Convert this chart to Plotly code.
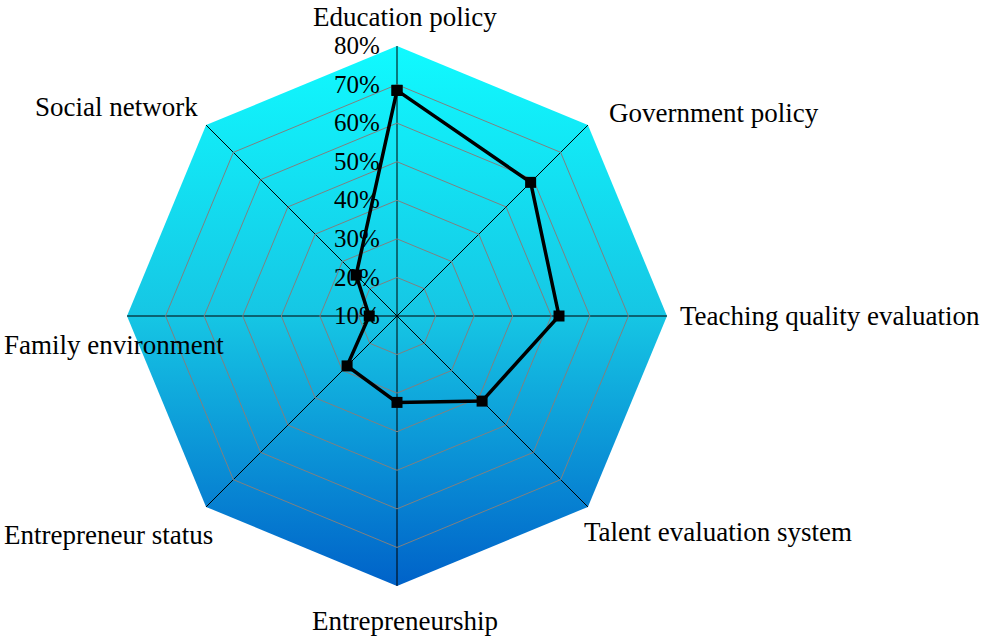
import numpy as np
import plotly.graph_objects as go

categories = ["Education policy", "Government policy", "Teaching quality evaluation",
              "Talent evaluation system", "Entrepreneurship", "Entrepreneur status",
              "Family environment", "Social network"]
values = [68.5, 59, 52, 41.2, 32.4, 28.3, 17.2, 25]
radial_ticks = [10, 20, 30, 40, 50, 60, 70, 80]
radial_labels = ["%d%%" % v for v in radial_ticks]

W, H = 983, 637
cx, cy, R = 397, 316, 270  # centre and radius of the octagon, px

# gradient octagon drawn as an svg behind the polar area
pts = " ".join(
    "%.2f,%.2f" % (R + R * np.cos(np.radians(a)), R - R * np.sin(np.radians(a)))
    for a in range(90, 450, 45)
)
svg = (
    '<svg xmlns="http://www.w3.org/2000/svg" width="%d" height="%d" viewBox="0 0 %d %d">'
    '<defs><linearGradient id="g" x1="0" y1="0" x2="0" y2="1">'
    '<stop offset="0" stop-color="#10FAFF"/>'
    '<stop offset="0.5" stop-color="#16C6E4"/>'
    '<stop offset="1" stop-color="#0062C9"/>'
    '</linearGradient></defs>'
    '<polygon points="%s" fill="url(#g)"/></svg>'
) % (2 * R, 2 * R, 2 * R, 2 * R, pts)
src = "data:image/svg+xml;charset=utf-8," + svg.replace("#", "%23").replace('"', "'")

fig = go.Figure()
fig.add_trace(go.Scatterpolar(
    r=values + values[:1],
    theta=categories + categories[:1],
    mode="lines+markers",
    line=dict(color="black", width=3.5),
    marker=dict(symbol="square", size=11, color="black"),
    showlegend=False,
))

# category labels next to the octagon corners, placed like the original (Excel) chart
label_style = [  # xanchor, dx, dy (px, screen down positive)
    ("center", 8, -29), ("left", 19, -12), ("left", 11, 0), ("left", -6, 25),
    ("center", 8, 35), ("right", 9, 28), ("left", -125, 29), ("right", -6, -18),
]
annotations = []
for k, (name, (xa, dx, dy)) in enumerate(zip(categories, label_style)):
    a = np.radians(90 - 45 * k)
    annotations.append(dict(
        text=name, xref="paper", yref="paper",
        x=(cx + R * np.cos(a)) / W, y=(H - cy + R * np.sin(a)) / H,
        xanchor=xa, yanchor="middle", xshift=dx, yshift=-dy, showarrow=False,
        font=dict(size=27, family="Liberation Serif", color="black"),
    ))

dom_x = [(cx - R) / W, (cx + R) / W]
dom_y = [(H - cy - R) / H, (H - cy + R) / H]

fig.update_layout(
    width=W, height=H,
    margin=dict(l=0, r=0, t=0, b=0),
    paper_bgcolor="white",
    font=dict(family="Liberation Serif", color="black"),
    annotations=annotations,
    images=[dict(source=src, xref="paper", yref="paper",
                 x=dom_x[0], y=dom_y[1], sizex=dom_x[1] - dom_x[0], sizey=dom_y[1] - dom_y[0],
                 xanchor="left", yanchor="top", sizing="stretch", layer="below")],
    polar=dict(
        domain=dict(x=dom_x, y=dom_y),
        bgcolor="rgba(0,0,0,0)",
        gridshape="linear",
        radialaxis=dict(
            range=[10, 80], tickvals=radial_ticks, ticktext=radial_labels,
            angle=90, tickangle=90, side="counterclockwise",
            showline=False, ticks="outside", ticklen=8, tickcolor="rgba(0,0,0,0)",
            gridcolor="#808080", gridwidth=0.8,
            tickfont=dict(size=25, family="Liberation Serif", color="black"),
        ),
        angularaxis=dict(
            rotation=90, direction="clockwise",
            showline=False, ticks="", showticklabels=False,
            gridcolor="black", gridwidth=1,
        ),
    ),
)

# the page's default 8px body margin would push the fixed-size figure off the window
fig.write_html("out.html", config={"displayModeBar": False},
               post_script="document.body.style.margin='0px';")
